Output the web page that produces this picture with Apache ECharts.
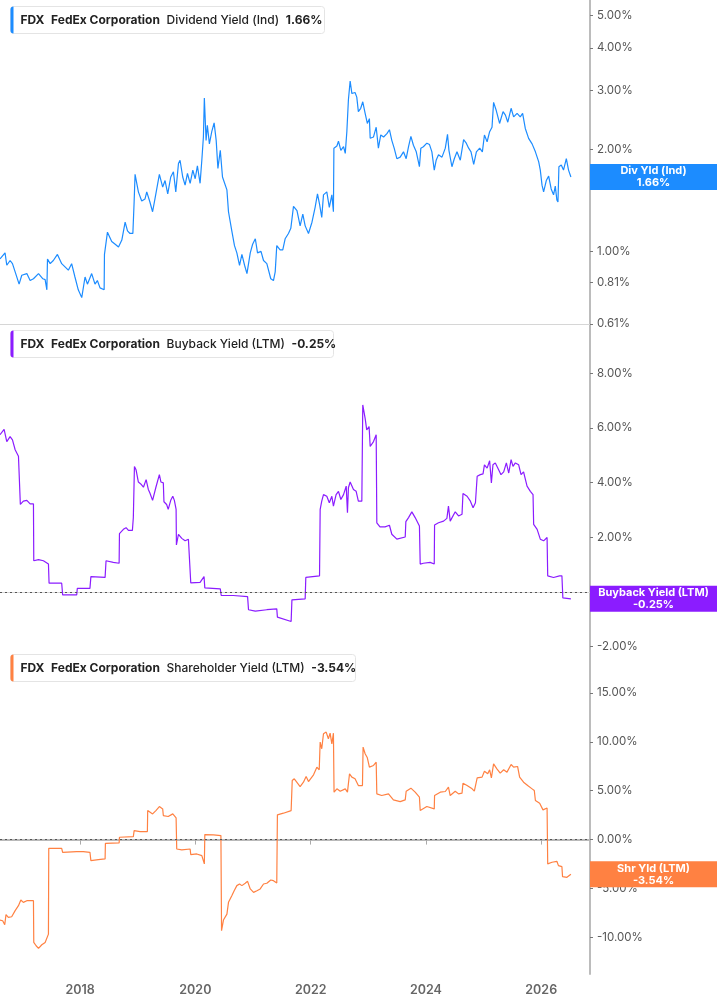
<!DOCTYPE html>
<html lang="en">
<head>
    <meta charset="UTF-8">
    <title>FDX yields</title>
    <script src="https://cdn.jsdelivr.net/npm/echarts@6/dist/echarts.min.js"></script>
    <style>
        html, body { margin: 0; padding: 0; background: #fff; }
        #chart { width: 717px; height: 1005px; }
    </style>
</head>
<body>
<div id="chart"></div>
<script>
    // dividend yield (Ind), %
    var divYield = [
        ['2016-08-11',0.95],['2016-09-12',0.99],['2016-09-23',0.91],['2016-10-14',0.94],['2016-10-29',0.92],['2016-11-15',0.87],['2016-12-10',0.80],['2016-12-27',0.85],
        ['2017-01-28',0.86],['2017-02-18',0.82],['2017-03-11',0.83],['2017-03-22',0.82],['2017-04-12',0.86],['2017-05-10',0.83],['2017-05-24',0.825],['2017-06-04',0.77],
        ['2017-06-08',0.95],['2017-06-25',0.92],['2017-07-15',0.94],['2017-08-10',0.98],['2017-09-06',0.92],['2017-09-27',0.90],['2017-10-18',0.88],['2017-11-08',0.92],
        ['2017-11-29',0.84],['2017-12-20',0.77],['2018-01-11',0.73],['2018-02-01',0.84],['2018-02-16',0.80],['2018-03-15',0.86],['2018-04-05',0.80],['2018-04-20',0.82],
        ['2018-05-07',0.78],['2018-06-02',0.77],['2018-06-04',0.98],['2018-06-23',1.14],['2018-07-20',1.07],['2018-08-11',1.05],['2018-09-01',1.03],['2018-09-22',1.08],
        ['2018-10-13',1.22],['2018-10-28',1.15],['2018-11-13',1.13],['2018-12-01',1.13],['2018-12-09',1.40],['2018-12-15',1.69],['2019-01-05',1.50],['2019-01-26',1.41],
        ['2019-02-16',1.43],['2019-02-27',1.50],['2019-03-19',1.40],['2019-04-05',1.31],['2019-04-20',1.43],['2019-05-18',1.69],['2019-06-08',1.55],['2019-06-23',1.62],
        ['2019-07-10',1.48],['2019-07-29',1.66],['2019-08-15',1.72],['2019-08-30',1.50],['2019-09-16',1.82],['2019-09-26',1.86],['2019-10-13',1.66],['2019-10-28',1.57],
        ['2019-11-12',1.70],['2019-11-29',1.59],['2019-12-16',1.74],['2019-12-31',1.64],['2020-01-14',1.79],['2020-01-31',1.59],['2020-02-11',1.86],['2020-02-21',2.18],
        ['2020-02-27',2.84],['2020-03-09',2.13],['2020-03-17',2.36],['2020-03-30',2.08],['2020-04-14',2.26],['2020-04-29',2.40],['2020-05-12',2.13],['2020-05-23',1.76],
        ['2020-06-07',1.99],['2020-06-21',1.66],['2020-07-19',1.52],['2020-07-29',1.31],['2020-08-19',1.15],['2020-09-05',1.04],['2020-09-20',0.99],['2020-10-07',0.91],
        ['2020-10-22',0.98],['2020-11-08',0.91],['2020-11-23',0.86],['2020-12-14',0.99],['2020-12-29',1.05],['2021-01-15',1.09],['2021-01-29',0.99],['2021-02-20',1.00],
        ['2021-03-08',0.94],['2021-03-29',0.92],['2021-04-23',0.83],['2021-05-10',0.82],['2021-05-21',0.87],['2021-05-31',1.04],['2021-06-21',1.01],['2021-07-08',1.01],
        ['2021-07-23',1.09],['2021-08-13',1.13],['2021-08-28',1.17],['2021-09-14',1.36],['2021-10-06',1.32],['2021-10-26',1.19],['2021-11-12',1.29],['2021-11-27',1.19],
        ['2021-12-18',1.13],['2022-01-09',1.22],['2022-01-29',1.35],['2022-02-13',1.48],['2022-02-26',1.38],['2022-03-12',1.26],['2022-03-23',1.47],['2022-04-13',1.50],
        ['2022-04-29',1.35],['2022-05-15',1.47],['2022-05-25',1.31],['2022-05-28',2.02],['2022-06-16',2.05],['2022-06-26',2.12],['2022-07-11',1.99],['2022-07-28',2.04],
        ['2022-08-08',1.95],['2022-08-18',2.26],['2022-08-28',2.81],['2022-09-08',3.19],['2022-09-19',2.93],['2022-10-09',2.95],['2022-10-20',2.86],['2022-10-30',2.59],
        ['2022-11-14',2.65],['2022-11-27',2.77],['2022-12-12',2.56],['2022-12-26',2.39],['2023-01-08',2.47],['2023-01-13',2.16],['2023-02-03',2.18],['2023-02-20',2.33],
        ['2023-03-06',2.02],['2023-03-21',2.21],['2023-04-08',2.18],['2023-04-29',2.23],['2023-05-15',2.29],['2023-05-30',2.13],['2023-06-14',2.02],['2023-07-01',1.88],
        ['2023-07-22',1.90],['2023-08-12',1.97],['2023-08-29',1.88],['2023-09-13',2.04],['2023-09-28',2.19],['2023-10-14',2.06],['2023-11-01',1.97],['2023-11-21',1.78],
        ['2023-11-30',2.02],['2023-12-16',2.04],['2024-01-07',2.09],['2024-01-24',2.07],['2024-02-08',1.97],['2024-02-23',1.74],['2024-03-06',1.86],['2024-03-21',1.93],
        ['2024-04-12',1.90],['2024-05-03',2.02],['2024-05-17',2.22],['2024-05-26',1.99],['2024-06-14',1.78],['2024-06-29',1.88],['2024-07-16',1.97],['2024-08-06',1.86],
        ['2024-08-17',1.84],['2024-08-27',2.14],['2024-09-13',2.09],['2024-09-28',2.02],['2024-10-13',1.97],['2024-10-30',1.81],['2024-11-16',1.97],['2024-12-07',2.02],
        ['2024-12-24',1.97],['2025-01-06',2.21],['2025-01-23',2.11],['2025-02-08',2.26],['2025-02-23',2.33],['2025-03-05',2.76],['2025-03-22',2.61],['2025-04-12',2.39],
        ['2025-05-04',2.59],['2025-05-19',2.53],['2025-06-03',2.41],['2025-06-24',2.65],['2025-07-10',2.50],['2025-08-01',2.56],['2025-08-21',2.50],['2025-09-05',2.56],
        ['2025-09-22',2.31],['2025-10-13',2.16],['2025-11-04',2.08],['2025-11-25',1.97],['2025-12-16',1.84],['2025-12-26',1.74],['2026-01-06',1.57],['2026-01-16',1.50],
        ['2026-02-02',1.62],['2026-02-17',1.67],['2026-03-05',1.53],['2026-03-20',1.47],['2026-03-31',1.56],['2026-04-10',1.42],['2026-04-17',1.40],['2026-04-23',1.78],
        ['2026-05-08',1.80],['2026-05-22',1.74],['2026-06-09',1.88],['2026-06-23',1.74],['2026-07-08',1.66]
    ];

    // buyback yield (LTM), %
    var buybackYield = [
        ['2016-08-11',5.75],['2016-08-22',5.77],['2016-09-06',5.95],['2016-09-12',5.99],['2016-09-23',5.50],['2016-10-14',5.68],['2016-10-29',5.56],['2016-11-15',5.20],
        ['2016-12-06',4.96],['2016-12-16',4.90],['2016-12-18',3.20],['2017-01-06',3.32],['2017-01-28',3.35],['2017-02-18',3.22],['2017-03-11',3.22],['2017-03-13',1.14],
        ['2017-04-12',1.18],['2017-05-13',1.14],['2017-06-14',1.02],['2017-06-18',0.32],['2017-09-06',0.32],['2017-09-12',-0.11],['2017-12-10',-0.11],['2017-12-14',0.13],
        ['2018-03-04',0.13],['2018-03-10',0.56],['2018-06-08',0.53],['2018-06-14',1.14],['2018-07-30',1.08],['2018-09-05',1.05],['2018-09-07',2.13],['2018-10-02',2.29],
        ['2018-10-19',2.35],['2018-11-03',2.25],['2018-11-28',2.25],['2018-12-04',2.72],['2018-12-11',4.59],['2018-12-21',4.47],['2019-01-05',4.02],['2019-01-20',3.95],
        ['2019-02-06',3.83],['2019-02-23',4.11],['2019-03-09',3.75],['2019-03-19',3.62],['2019-04-05',3.35],['2019-04-26',3.83],['2019-05-18',4.29],['2019-05-28',4.02],
        ['2019-06-12',3.99],['2019-06-16',3.30],['2019-07-03',3.20],['2019-07-13',3.02],['2019-07-29',3.35],['2019-08-11',3.50],['2019-08-21',3.35],['2019-09-01',3.02],
        ['2019-09-03',1.72],['2019-09-16',2.11],['2019-10-07',1.96],['2019-10-28',1.87],['2019-11-18',1.93],['2019-11-29',1.87],['2019-12-03',0.33],['2020-01-31',0.35],
        ['2020-02-25',0.56],['2020-03-01',0.15],['2020-06-07',0.11],['2020-06-13',-0.13],['2020-08-29',-0.13],['2020-09-03',-0.17],['2020-11-27',-0.17],['2020-12-03',-0.65],
        ['2021-01-15',-0.70],['2021-03-29',-0.65],['2021-05-31',-0.62],['2021-06-04',-0.92],['2021-08-30',-1.08],['2021-09-04',-0.29],['2021-11-27',-0.25],['2021-12-01',0.53],
        ['2022-02-26',0.59],['2022-03-02',3.02],['2022-03-12',3.32],['2022-03-23',3.56],['2022-04-13',3.50],['2022-04-29',3.26],['2022-05-15',3.50],['2022-05-25',3.14],
        ['2022-06-11',3.56],['2022-06-26',3.68],['2022-07-11',3.38],['2022-07-28',3.56],['2022-08-14',3.87],['2022-08-22',2.90],['2022-08-28',3.81],['2022-09-08',4.02],
        ['2022-09-29',3.75],['2022-10-16',3.68],['2022-10-30',3.32],['2022-11-21',3.32],['2022-11-27',6.84],['2022-12-12',6.35],['2022-12-22',5.93],['2023-01-06',6.05],
        ['2023-01-13',5.32],['2023-02-03',5.50],['2023-02-20',5.75],['2023-02-24',2.53],['2023-03-16',2.38],['2023-04-17',2.38],['2023-05-15',2.44],['2023-05-30',2.11],
        ['2023-07-01',1.93],['2023-08-23',2.01],['2023-08-27',2.57],['2023-09-13',2.72],['2023-10-04',2.93],['2023-10-25',2.72],['2023-11-21',2.41],['2023-11-26',1.02],
        ['2023-12-16',1.05],['2024-01-28',1.08],['2024-02-23',1.02],['2024-02-25',2.45],['2024-03-21',2.53],['2024-04-22',2.59],['2024-05-13',2.69],['2024-05-23',3.14],
        ['2024-06-03',2.59],['2024-07-05',2.93],['2024-07-26',2.78],['2024-08-17',2.84],['2024-08-23',3.60],['2024-09-18',3.50],['2024-10-09',3.32],['2024-10-26',3.08],
        ['2024-11-10',3.26],['2024-11-21',4.23],['2024-12-11',4.29],['2024-12-28',4.32],['2025-01-06',4.65],['2025-01-23',4.53],['2025-02-08',4.80],['2025-02-19',3.99],
        ['2025-03-01',4.65],['2025-03-16',4.72],['2025-04-06',4.47],['2025-04-21',4.29],['2025-05-08',4.39],['2025-05-25',4.72],['2025-06-09',4.35],['2025-06-24',4.84],
        ['2025-07-06',4.59],['2025-07-21',4.72],['2025-08-11',4.65],['2025-08-26',4.29],['2025-09-11',4.39],['2025-10-03',3.87],['2025-10-24',3.68],['2025-11-10',3.56],
        ['2025-11-14',2.47],['2025-12-06',2.29],['2025-12-26',1.93],['2026-01-16',1.87],['2026-02-07',1.99],['2026-02-11',0.59],['2026-03-20',0.53],['2026-04-27',0.59],
        ['2026-05-12',0.59],['2026-05-18',-0.22],['2026-07-08',-0.25]
    ];

    // shareholder yield (LTM), %
    var shareholderYield = [
        ['2016-08-11',-8.23],['2016-08-28',-8.30],['2016-09-10',-8.71],['2016-09-18',-7.68],['2016-10-03',-7.96],['2016-10-24',-7.89],['2016-11-15',-7.27],['2016-12-06',-6.76],
        ['2016-12-21',-6.18],['2017-01-06',-6.42],['2017-01-28',-6.25],['2017-03-11',-6.25],['2017-03-13',-10.52],['2017-03-28',-10.86],['2017-04-12',-11.13],['2017-05-03',-10.76],
        ['2017-05-24',-10.52],['2017-06-14',-9.67],['2017-06-16',-0.89],['2017-09-06',-0.89],['2017-09-12',-1.30],['2017-12-10',-1.23],['2018-01-21',-1.23],['2018-03-04',-1.30],
        ['2018-03-10',-2.15],['2018-04-26',-2.05],['2018-06-08',-1.98],['2018-06-10',-0.38],['2018-09-05',-0.34],['2018-09-07',0.24],['2018-12-04',0.31],['2018-12-09',0.92],
        ['2019-01-16',0.82],['2019-03-03',0.82],['2019-03-05',2.97],['2019-04-05',2.63],['2019-04-26',2.97],['2019-05-18',3.38],['2019-06-08',3.14],['2019-06-12',2.46],
        ['2019-07-13',2.36],['2019-08-11',2.63],['2019-09-01',2.22],['2019-09-05',-0.96],['2019-10-07',-1.06],['2019-11-29',-0.96],['2019-12-03',-1.54],['2020-01-10',-1.47],
        ['2020-02-11',-1.64],['2020-02-27',-2.49],['2020-03-01',0.51],['2020-04-25',0.48],['2020-06-11',0.41],['2020-06-15',-9.32],['2020-06-27',-8.23],['2020-07-19',-7.62],
        ['2020-07-29',-6.42],['2020-08-19',-5.74],['2020-09-03',-5.23],['2020-09-20',-4.71],['2020-10-07',-4.54],['2020-10-22',-4.71],['2020-11-12',-4.47],['2020-11-27',-4.27],
        ['2020-12-14',-5.05],['2021-01-04',-5.40],['2021-01-25',-5.23],['2021-02-15',-5.05],['2021-03-08',-4.54],['2021-03-29',-4.47],['2021-04-23',-4.13],['2021-05-10',-4.20],
        ['2021-05-31',-4.44],['2021-06-04',2.53],['2021-07-12',2.70],['2021-08-30',2.97],['2021-09-06',6.05],['2021-09-19',6.22],['2021-10-26',5.43],['2021-11-16',5.87],
        ['2021-12-03',6.45],['2021-12-18',5.94],['2022-01-19',6.63],['2022-02-09',7.41],['2022-02-24',7.14],['2022-03-02',9.97],['2022-03-12',9.29],['2022-03-23',10.83],
        ['2022-04-09',11.00],['2022-04-23',10.31],['2022-05-04',10.89],['2022-05-15',9.80],['2022-05-25',10.89],['2022-05-29',4.85],['2022-06-16',5.19],['2022-07-07',4.95],
        ['2022-08-08',5.19],['2022-08-22',4.85],['2022-09-04',6.73],['2022-09-19',6.39],['2022-10-09',6.22],['2022-10-30',5.53],['2022-11-25',5.53],['2022-11-29',9.46],
        ['2022-12-12',8.78],['2022-12-26',8.37],['2023-01-08',7.41],['2023-02-03',7.58],['2023-02-20',7.92],['2023-02-24',4.68],['2023-03-27',4.51],['2023-05-09',4.68],
        ['2023-06-09',4.06],['2023-07-22',3.89],['2023-08-23',4.06],['2023-08-29',4.95],['2023-09-28',5.26],['2023-10-25',4.85],['2023-11-21',4.34],['2023-11-26',2.97],
        ['2024-01-07',3.38],['2024-02-23',3.14],['2024-02-25',4.51],['2024-04-01',4.85],['2024-05-03',4.92],['2024-05-23',5.36],['2024-06-03',4.51],['2024-07-05',4.95],
        ['2024-07-26',4.68],['2024-08-17',4.75],['2024-08-23',5.77],['2024-09-18',5.53],['2024-10-20',5.19],['2024-11-03',4.95],['2024-11-21',6.32],['2024-12-22',6.39],
        ['2025-01-06',7.00],['2025-01-27',6.73],['2025-02-08',7.14],['2025-02-19',6.32],['2025-03-05',7.75],['2025-03-26',7.24],['2025-04-16',6.80],['2025-05-08',7.14],
        ['2025-05-29',6.90],['2025-06-24',7.68],['2025-07-10',7.41],['2025-08-04',7.48],['2025-08-17',6.39],['2025-09-11',5.87],['2025-10-07',5.53],['2025-11-04',5.19],
        ['2025-11-18',5.02],['2025-11-25',4.00],['2025-12-22',3.72],['2026-01-12',3.04],['2026-02-07',3.24],['2026-02-11',-2.49],['2026-03-10',-2.32],['2026-04-10',-2.22],
        ['2026-04-20',-2.66],['2026-05-12',-2.77],['2026-05-16',-3.79],['2026-06-13',-3.86],['2026-07-08',-3.54]
    ];

    var divTicks = [0.61, 0.81, 1, 2, 3, 4, 5];
    var buybackTicks = [-2, 0, 2, 4, 6, 8];
    var shareholderTicks = [-10, -5, 0, 5, 10, 15];
    var yearTicks = ['2018-01-01', '2020-01-01', '2022-01-01', '2024-01-01', '2026-01-01'];

    var panels = [
        { label: 'Dividend Yield (Ind)', tag: 'Div Yld (Ind)', value: 1.66, color: '#1c8cff', width: 314 },
        { label: 'Buyback Yield (LTM)', tag: 'Buyback Yield (LTM)', value: -0.25, color: '#8b1cff', width: 323 },
        { label: 'Shareholder Yield (LTM)', tag: 'Shr Yld (LTM)', value: -3.54, color: '#ff8142', width: 345 }
    ];

    var FONT = 'Inter, "Noto Sans", sans-serif';
    var xMin = '2016-08-11';
    var xMax = '2026-11-06';
    var gridRight = 127;
    var tops = [0, 324, 648];
    var heights = [324, 324, 326];

    var chart = echarts.init(document.getElementById('chart'));

    function ts(d) {
        return +new Date(d + 'T00:00:00Z');
    }

    function pct(v) {
        return Number(v).toFixed(2) + '%';
    }

    var yearValues = yearTicks.map(ts);

    function xAxisFor(i) {
        var last = i === 2;
        return {
            type: 'value',
            gridIndex: i,
            min: ts(xMin),
            max: ts(xMax),
            splitLine: { show: false },
            axisLine: { show: true, lineStyle: { color: last ? '#b9b9b9' : '#d6d6d6', width: last ? 2 : 1 } },
            axisTick: { show: last, length: 5, lineStyle: { color: '#aaa' }, customValues: yearValues },
            axisLabel: {
                show: last,
                customValues: yearValues,
                formatter: function (v) { return String(new Date(v).getUTCFullYear()); },
                color: '#666', fontSize: 12.5, fontWeight: 600, fontFamily: FONT, margin: 10
            }
        };
    }

    function yAxisFor(i, type, min, max, ticks) {
        return {
            type: type,
            gridIndex: i,
            position: 'right',
            min: min,
            max: max,
            splitLine: { show: false },
            axisLine: { show: true, lineStyle: { color: '#bcbcbc', width: 2 } },
            axisTick: { show: true, length: 3, lineStyle: { color: '#777' }, customValues: ticks },
            axisLabel: {
                customValues: ticks,
                formatter: pct,
                color: '#555', fontSize: 11.5, fontFamily: FONT, margin: 7
            }
        };
    }

    var zeroLine = {
        silent: true,
        symbol: 'none',
        label: { show: false },
        lineStyle: { type: [2, 3], color: '#555', width: 1 },
        data: [{ yAxis: 0 }]
    };

    var seriesData = [divYield, buybackYield, shareholderYield];

    var option = {
        animation: false,
        textStyle: { fontFamily: FONT },
        grid: tops.map(function (t, i) {
            return { left: 0, right: gridRight, top: t, height: heights[i] };
        }),
        xAxis: [xAxisFor(0), xAxisFor(1), xAxisFor(2)],
        yAxis: [
            yAxisFor(0, 'log', 0.61, 5.54, divTicks),
            yAxisFor(1, 'value', -2.05, 9.8, buybackTicks),
            yAxisFor(2, 'value', -13.75, 19.6, shareholderTicks)
        ],
        series: panels.map(function (p, i) {
            var s = {
                name: p.label,
                type: 'line',
                xAxisIndex: i,
                yAxisIndex: i,
                data: seriesData[i].map(function (d) { return [ts(d[0]), d[1]]; }),
                showSymbol: false,
                symbol: 'none',
                lineStyle: { color: p.color, width: 1.2 },
                itemStyle: { color: p.color }
            };
            if (i > 0) s.markLine = zeroLine;
            return s;
        })
    };
    chart.setOption(option);

    // legend boxes top-left and value tags on the right axis
    var graphics = [];
    panels.forEach(function (p, i) {
        var top = tops[i] + 6;
        graphics.push({
            type: 'group',
            left: 10,
            top: top,
            z: 100,
            children: [
                { type: 'rect', z: 100, shape: { x: 0, y: 0, width: p.width, height: 27, r: 3 },
                  style: { fill: '#fff', stroke: '#e4e4e4', lineWidth: 1 } },
                { type: 'rect', z: 101, shape: { x: 0, y: 0, width: 3, height: 27, r: [3, 0, 0, 3] },
                  style: { fill: p.color } },
                { type: 'text', z: 101, x: 10, y: 13.5,
                  style: {
                      text: '{b|FDX}  {b|FedEx Corporation}  {n|' + p.label + '}  {b|' + pct(p.value) + '}',
                      verticalAlign: 'middle',
                      rich: {
                          b: { fontFamily: FONT, fontSize: 12, fontWeight: 700, fill: '#222' },
                          n: { fontFamily: FONT, fontSize: 12, fontWeight: 500, fill: '#222' }
                      }
                  } }
            ]
        });
        var py = chart.convertToPixel({ yAxisIndex: i }, p.value);
        graphics.push({
            type: 'group',
            x: 717 - gridRight,
            y: py - 13,
            z: 100,
            children: [
                { type: 'rect', z: 100, shape: { x: 0, y: 0, width: gridRight, height: 26 }, style: { fill: p.color } },
                { type: 'text', z: 101, x: gridRight / 2, y: 13,
                  style: {
                      text: p.tag + '\n' + pct(p.value),
                      fill: '#fff', fontFamily: FONT, fontSize: 11, fontWeight: 700,
                      lineHeight: 12, align: 'center', verticalAlign: 'middle'
                  } }
            ]
        });
    });
    chart.setOption({ graphic: graphics });
</script>
</body>
</html>
